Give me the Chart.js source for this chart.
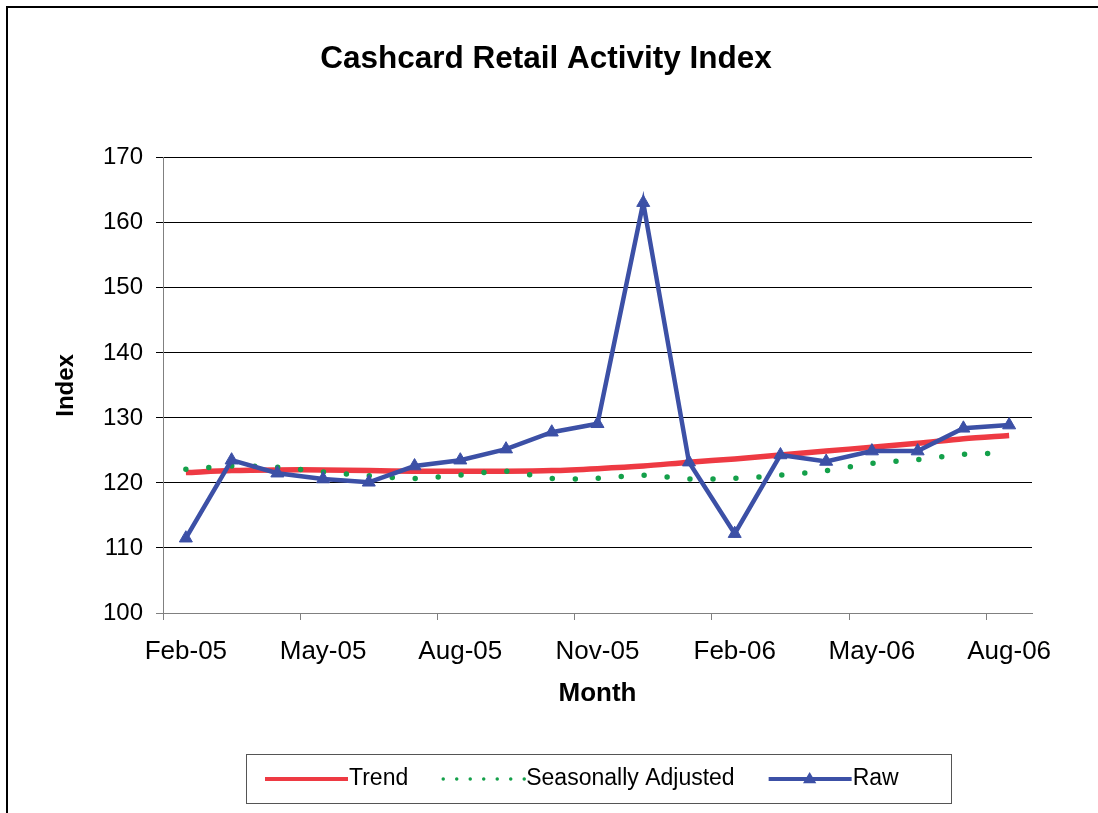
<!DOCTYPE html>
<html>
<head>
<meta charset="utf-8">
<script src="https://cdn.jsdelivr.net/npm/chart.js@4/dist/chart.umd.min.js"></script>
<style>
  html, body { margin: 0; padding: 0; background: #fff; }
  #wrap { width: 1098px; height: 813px; position: relative; }
</style>
</head>
<body>
<div id="wrap"><canvas id="c" width="1098" height="813"></canvas></div>
<script>
const months = ['Feb-05','Mar-05','Apr-05','May-05','Jun-05','Jul-05','Aug-05','Sep-05','Oct-05','Nov-05','Dec-05','Jan-06','Feb-06','Mar-06','Apr-06','May-06','Jun-06','Jul-06','Aug-06'];
const trendValues = [121.6, 121.9, 122.0, 122.0, 121.9, 121.8, 121.8, 121.8, 121.9, 122.2, 122.6, 123.2, 123.7, 124.3, 124.9, 125.5, 126.1, 126.8, 127.3];
const seasonalValues = [122.1, 122.6, 122.4, 121.7, 121.1, 120.7, 121.2, 121.8, 120.7, 120.7, 121.2, 120.6, 120.7, 121.2, 121.9, 123.0, 123.6, 124.4, 124.6];
const rawValues = [111.5, 123.5, 121.5, 120.6, 120.1, 122.6, 123.5, 125.2, 127.8, 129.1, 163.1, 123.2, 112.2, 124.3, 123.3, 124.9, 124.9, 128.4, 128.9];
const yTicks = [100, 110, 120, 130, 140, 150, 160, 170];
const seriesNames = ['Trend', 'Seasonally Adjusted', 'Raw'];

const FONT = '"Liberation Sans", Arial, Helvetica, sans-serif';
Chart.defaults.font.family = FONT;
Chart.defaults.color = '#000';

const RED = '#ee3a43', GREEN = '#14a04a', BLUE = '#3c50a6';

const decorPlugin = {
  id: 'decor',
  afterDraw(chart) {
    const ctx = chart.ctx;
    ctx.save();
    // outer frame
    ctx.fillStyle = '#000';
    ctx.fillRect(6, 6, chart.width - 6, 2);
    ctx.fillRect(6, 6, 2, chart.height - 6);
    // legend box
    ctx.strokeStyle = '#555';
    ctx.lineWidth = 1;
    ctx.strokeRect(246.5, 754.5, 705, 49);
    ctx.font = '23px ' + FONT;
    ctx.textBaseline = 'middle';
    ctx.textAlign = 'left';
    const y = 779;
    let x = 265;
    chart.data.datasets.forEach(ds => {
      ctx.save();
      ctx.strokeStyle = ds.borderColor;
      ctx.lineWidth = ds.legendWidth;
      ctx.lineCap = ds.borderCapStyle || 'butt';
      ctx.setLineDash(ds.legendDash || []);
      ctx.beginPath();
      ctx.moveTo(x + (ds.legendDash ? 1 : 0), y);
      ctx.lineTo(x + 83, y);
      ctx.stroke();
      ctx.restore();
      if (ds.pointStyle === 'triangle') {
        const cx = x + 41, r = 7;
        ctx.fillStyle = ds.borderColor;
        ctx.beginPath();
        ctx.moveTo(cx, y - r);
        ctx.lineTo(cx + r * 0.95, y + r * 0.6);
        ctx.lineTo(cx - r * 0.95, y + r * 0.6);
        ctx.closePath();
        ctx.fill();
      }
      ctx.fillStyle = '#000';
      ctx.fillText(ds.label, x + 84, y);
      x += 84 + ctx.measureText(ds.label).width + 34;
    });
    ctx.restore();
  }
};

new Chart(document.getElementById('c'), {
  type: 'line',
  data: {
    labels: months,
    datasets: [
      {
        label: seriesNames[0], data: trendValues, order: 2,
        borderColor: RED, backgroundColor: RED, borderWidth: 5.5, legendWidth: 4,
        pointRadius: 0, tension: 0.3, borderCapStyle: 'butt', fill: false
      },
      {
        label: seriesNames[1], data: seasonalValues, order: 1,
        borderColor: GREEN, backgroundColor: GREEN, borderWidth: 5.5, legendWidth: 3.5,
        borderDash: [0, 23], legendDash: [0, 13.5], borderCapStyle: 'round',
        pointRadius: 0, tension: 0.3, fill: false
      },
      {
        label: seriesNames[2], data: rawValues, order: 0,
        borderColor: BLUE, backgroundColor: BLUE, borderWidth: 4.5, legendWidth: 4,
        pointStyle: 'triangle', pointRadius: 7.5, pointBackgroundColor: BLUE, pointBorderColor: BLUE,
        pointBorderWidth: 1, tension: 0, fill: false
      }
    ]
  },
  options: {
    responsive: false,
    animation: false,
    events: [],
    layout: { padding: { top: 0, left: 0, right: 6, bottom: 0 } },
    plugins: {
      legend: { display: false },
      tooltip: { enabled: false },
      title: {
        display: true, text: 'Cashcard Retail Activity Index', color: '#000',
        font: { size: 31.5, weight: 'bold', family: FONT },
        padding: { top: 40, bottom: 80 }
      }
    },
    scales: {
      x: {
        type: 'category', offset: true,
        grid: {
          offset: true, drawOnChartArea: false, drawTicks: true, tickLength: 7,
          color: ctx => (ctx.index % 3 === 0 ? '#808080' : 'rgba(0,0,0,0)')
        },
        border: { color: '#808080', width: 1 },
        ticks: {
          autoSkip: false, maxRotation: 0, minRotation: 0, padding: 16, color: '#000',
          font: { size: 26 },
          callback: (v, i) => (i % 3 === 0 ? months[i] : '')
        },
        title: {
          display: true, text: 'Month', color: '#000',
          font: { size: 26, weight: 'bold' }, padding: { top: 0, bottom: 104 }
        },
        afterFit: s => { s.height = 200; }
      },
      y: {
        min: yTicks[0], max: yTicks[yTicks.length - 1],
        afterBuildTicks: s => { s.ticks = yTicks.map(v => ({ value: v })); },
        ticks: { padding: 13, color: '#000', font: { size: 24 } },
        grid: {
          tickLength: 7, lineWidth: 1,
          color: ctx => (ctx.tick && ctx.tick.value === yTicks[0] ? '#808080' : '#000')
        },
        border: { color: '#808080', width: 1 },
        title: {
          display: true, text: 'Index', color: '#000',
          font: { size: 24, weight: 'bold' }, padding: { top: 52, bottom: 0 }
        },
        afterFit: s => { s.width = 163; }
      },
      yR: {
        position: 'right', display: true,
        grid: { display: false, drawTicks: false }, ticks: { display: false },
        border: { display: false },
        afterFit: s => { s.width = 60; }
      }
    }
  },
  plugins: [decorPlugin]
});
</script>
</body>
</html>
